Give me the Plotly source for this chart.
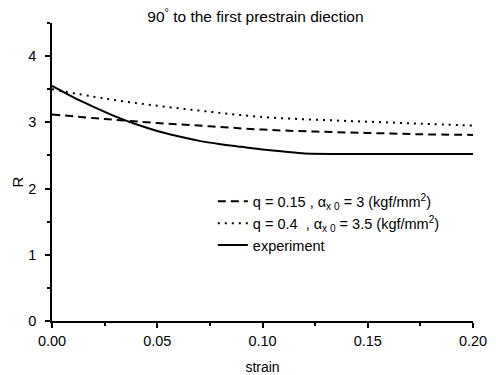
import plotly.graph_objects as go

strain_model = [0.0, 0.025, 0.05, 0.075, 0.10, 0.125, 0.15, 0.175, 0.20]
r_q015 = [3.12, 3.05, 2.99, 2.94, 2.89, 2.86, 2.84, 2.82, 2.81]
r_q04 = [3.50, 3.36, 3.25, 3.16, 3.08, 3.04, 3.01, 2.98, 2.95]

strain_exp = [0.0, 0.01, 0.02, 0.03, 0.04, 0.05, 0.06, 0.07, 0.08, 0.09, 0.10, 0.11, 0.12, 0.15, 0.20]
r_exp = [3.55, 3.38, 3.23, 3.09, 2.97, 2.87, 2.79, 2.72, 2.67, 2.63, 2.59, 2.56, 2.53, 2.52, 2.52]

names = [
    "q = 0.15 , α<sub>x 0</sub> = 3 (kgf/mm<sup>2</sup>)",
    "q = 0.4  , α<sub>x 0</sub> = 3.5 (kgf/mm<sup>2</sup>)",
    "experiment",
]

fig = go.Figure()
fig.add_trace(go.Scatter(x=strain_model, y=r_q015, mode="lines", name=names[0],
                         line=dict(color="black", width=2, dash="8px,5px", shape="spline")))
fig.add_trace(go.Scatter(x=strain_model, y=r_q04, mode="lines", name=names[1],
                         line=dict(color="black", width=2, dash="2px,5px", shape="spline")))
fig.add_trace(go.Scatter(x=strain_exp, y=r_exp, mode="lines", name=names[2],
                         line=dict(color="black", width=2, shape="spline", smoothing=0.6)))

font = "Liberation Sans, Arial, sans-serif"
fig.update_layout(
    width=496, height=375,
    margin=dict(l=52, r=23, t=23, b=54, autoexpand=False),
    paper_bgcolor="white", plot_bgcolor="white",
    font=dict(family=font, size=14, color="black"),
    title=dict(text="90<sup>°</sup> to the first prestrain diection", x=0.515, xanchor="center",
               y=0.955, yanchor="middle", font=dict(size=15.5), automargin=False),
    showlegend=True,
    legend=dict(x=0.382, y=0.455, xanchor="left", yanchor="top", bgcolor="rgba(0,0,0,0)",
                font=dict(size=14.5), tracegroupgap=0, itemwidth=30),
    xaxis=dict(range=[0, 0.2], tickvals=[0, 0.05, 0.10, 0.15, 0.20],
               ticktext=["0.00", "0.05", "0.10", "0.15", "0.20"], automargin=False,
               showline=True, linecolor="black", linewidth=1.5, ticks="outside", ticklen=5,
               tickwidth=1.5, tickcolor="black", showgrid=False, zeroline=False,
               tickfont=dict(size=14.5), ticklabelstandoff=1,
               minor=dict(dtick=0.025, tick0=0, ticks="outside", ticklen=3, tickcolor="black", showgrid=False),
               title=dict(text="strain", font=dict(size=14))),
    yaxis=dict(range=[0, 4.5], tickvals=[0, 1, 2, 3, 4], automargin=False,
               showline=True, linecolor="black", linewidth=1.5, ticks="outside", ticklen=5,
               tickwidth=1.5, tickcolor="black", showgrid=False, zeroline=False,
               tickfont=dict(size=14.5), ticklabelstandoff=6,
               minor=dict(dtick=0.5, tick0=0, ticks="outside", ticklen=3, tickcolor="black", showgrid=False)),
    annotations=[dict(text="R", xref="paper", yref="paper", x=-0.083, y=0.465,
                      xanchor="center", yanchor="middle", showarrow=False, textangle=-90,
                      font=dict(size=15))],
)

fig.write_html("out.html")
